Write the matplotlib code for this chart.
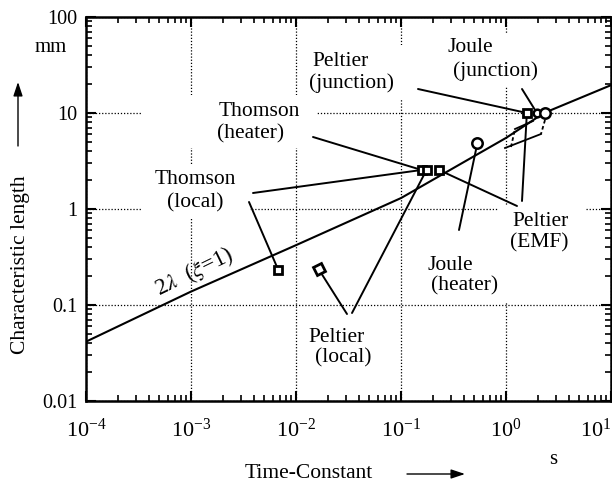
import numpy as np
import matplotlib
matplotlib.use("Agg")
import matplotlib.pyplot as plt
from matplotlib.markers import MarkerStyle
from matplotlib.patches import Rectangle, FancyArrowPatch
from matplotlib.transforms import Affine2D
from matplotlib.ticker import FixedLocator, FixedFormatter, LogLocator, NullFormatter

plt.rcParams['font.family'] = ['Liberation Serif', 'DejaVu Serif']
plt.rcParams['mathtext.fontset'] = 'stix'

# 2 lambda (xi=1) curve
lam_t = [1e-4, 1e-3, 1e-2, 1e-1, 1.0, 2.3, 10.0]
lam_len = [0.0415, 0.138, 0.42, 1.3, 5.5, 10.0, 19.5]

# squares: thomson local, heater cluster (3), junction
sq_t = [0.0068, 0.157, 0.175, 0.230, 1.58]
sq_len = [0.23, 2.55, 2.55, 2.55, 10.0]
# peltier local (tilted square)
tilt_t = [0.0164]
tilt_len = [0.237]
# circles: joule heater, joule junction (small, big)
circ_t = [0.535, 1.97, 2.34]
circ_len = [4.9, 10.0, 10.0]
circ_size = [7.5, 5.5, 7.5]

ytick_vals = [0.01, 0.1, 1, 10, 100]
ytick_labels = ['0.01', '0.1', '1', '10', '100']

# label text lines: (text, x px, y px)
labels = [
    ('Thomson', 195.5, 180), ('(local)', 195, 203),
    ('Thomson', 259.5, 112), ('(heater)', 251, 134),
    ('Peltier', 341, 62), ('(junction)', 351.5, 83),
    ('Joule', 470, 47), ('(junction)', 496, 71),
    ('Peltier', 541, 221), ('(EMF)', 539, 243),
    ('Joule', 450, 265), ('(heater)', 465, 286),
    ('Peltier', 337, 337), ('(local)', 343, 358),
]

# white boxes behind labels (x0, x1, y0, y1 px)
masks = [
    (142, 250, 165, 218), (142, 316, 95, 148), (300, 410, 45, 100),
    (440, 546, 33, 87), (498, 585, 205, 262), (415, 510, 255, 303),
    (300, 380, 322, 372),
]

# leader lines: label end (px) -> marker (data)
leaders = [
    ((313, 137), (sq_t[1], sq_len[1])),
    ((253, 193), (sq_t[1], sq_len[1])),
    ((249, 202), (sq_t[0], sq_len[0])),
    ((347, 314), (tilt_t[0], tilt_len[0])),
    ((352, 313), (sq_t[2], sq_len[2])),
    ((517, 206), (sq_t[3], sq_len[3])),
    ((522, 201), (sq_t[4], sq_len[4])),
    ((459, 230), (circ_t[0], circ_len[0])),
    ((418, 89), (sq_t[4], sq_len[4])),
    ((522, 89), (circ_t[1], circ_len[1])),
]

AX_L, AX_R, AX_T, AX_B = 86, 611, 17, 401


def frac(px, py):
    return ((px - AX_L) / (AX_R - AX_L), (AX_B - py) / (AX_B - AX_T))


def ffrac(px, py):
    return (px / 612, 1 - py / 486)


fig = plt.figure(figsize=(6.12, 4.86), dpi=100)
ax = fig.add_axes([AX_L / 612, (486 - AX_B) / 486, (AX_R - AX_L) / 612, (AX_B - AX_T) / 486])
ax.set_xscale('log')
ax.set_yscale('log')
ax.set_xlim(1e-4, 10)
ax.set_ylim(0.01, 100)

ax.grid(True, which='major', linestyle=(0, (1, 1.5)), color='black', linewidth=0.9, zorder=0)
ax.set_axisbelow(True)

for x0, x1, y0, y1 in masks:
    fx0, fy1 = frac(x0, y0)
    fx1, fy0 = frac(x1, y1)
    ax.add_patch(Rectangle((fx0, fy0), fx1 - fx0, fy1 - fy0, transform=ax.transAxes,
                           facecolor='white', edgecolor='none', zorder=1))

ax.plot(lam_t, lam_len, color='black', lw=1.5, zorder=3)

for (px, py), (mx, my) in leaders:
    ax.annotate('', xy=(mx, my), xycoords='data', xytext=frac(px, py), textcoords='axes fraction',
                arrowprops=dict(arrowstyle='-', lw=1.4, color='black', shrinkA=0, shrinkB=3), zorder=3)

# dashed bracket near the junction points
for seg, ls in [([(511, 147), (515, 129)], (0, (2, 1.5))), ([(515, 129), (533, 121)], '-'),
                ([(545, 120), (541, 134)], (0, (2, 1.5))), ([(541, 134), (505, 148)], '-')]:
    (ax0, ay0), (ax1, ay1) = frac(*seg[0]), frac(*seg[1])
    ax.plot([ax0, ax1], [ay0, ay1], transform=ax.transAxes, color='black', lw=1.3, ls=ls, zorder=3)

ax.plot(sq_t, sq_len, linestyle='none', marker='s', ms=6, mfc='white', mec='black', mew=2, zorder=5)
tilted = MarkerStyle('s', transform=Affine2D().rotate_deg(25))
ax.plot(tilt_t, tilt_len, linestyle='none', marker=tilted, ms=6, mfc='white', mec='black', mew=2, zorder=5)
for t, l, s in zip(circ_t, circ_len, circ_size):
    ax.plot([t], [l], linestyle='none', marker='o', ms=s, mfc='white', mec='black', mew=1.8, zorder=5)

for txt, px, py in labels:
    ax.text(*frac(px, py), txt, transform=ax.transAxes, fontsize=15.5, ha='center', va='center', zorder=4)

ax.text(*frac(194, 272), r'2$\lambda$  ($\xi$=1)', transform=ax.transAxes, fontsize=16.5,
        rotation=26, ha='center', va='center', rotation_mode='anchor', zorder=4)

# ticks
ax.xaxis.set_major_locator(LogLocator(base=10, numticks=20))
ax.xaxis.set_minor_locator(LogLocator(base=10, subs=np.arange(2, 10), numticks=20))
ax.xaxis.set_minor_formatter(NullFormatter())
ax.yaxis.set_major_locator(FixedLocator(ytick_vals))
ax.yaxis.set_major_formatter(FixedFormatter(ytick_labels))
ax.yaxis.set_minor_locator(LogLocator(base=10, subs=np.arange(2, 10), numticks=20))
ax.yaxis.set_minor_formatter(NullFormatter())
ax.tick_params(which='both', direction='in', top=True, right=True, color='black')
ax.tick_params(which='major', length=7, width=1.5)
ax.tick_params(which='minor', length=4, width=1.2)
ax.tick_params(axis='x', which='major', pad=13, labelsize=16)
ax.tick_params(axis='y', which='major', pad=6, labelsize=14.5)
for sp in ax.spines.values():
    sp.set_linewidth(1.8)

# keep the last x label inside the figure, as in the original
fig.canvas.draw()
for tick in ax.xaxis.get_major_ticks():
    if np.isclose(tick.get_loc(), 10.0):
        tick.label1.set_horizontalalignment('right')

# axis labels and arrows in figure pixels
fig.text(*ffrac(21, 265), 'Characteristic length', rotation=90, fontsize=15.5, ha='center', va='center')
fig.text(*ffrac(309, 473), 'Time-Constant', fontsize=15.5, ha='center', va='center')
fig.text(*ffrac(51, 48), 'mm', fontsize=15, ha='center', va='center')
fig.text(*ffrac(553, 459), 's', fontsize=15, ha='center', va='center')
arrow = dict(arrowstyle='-|>,head_length=0.6,head_width=0.2', lw=1.0, color='black',
             mutation_scale=14, shrinkA=0, shrinkB=0)
fig.add_artist(FancyArrowPatch(ffrac(18, 146), ffrac(18, 82), transform=fig.transFigure, **arrow))
fig.add_artist(FancyArrowPatch(ffrac(407, 474), ffrac(465, 474), transform=fig.transFigure, **arrow))

fig.savefig('out.png', dpi=100)
